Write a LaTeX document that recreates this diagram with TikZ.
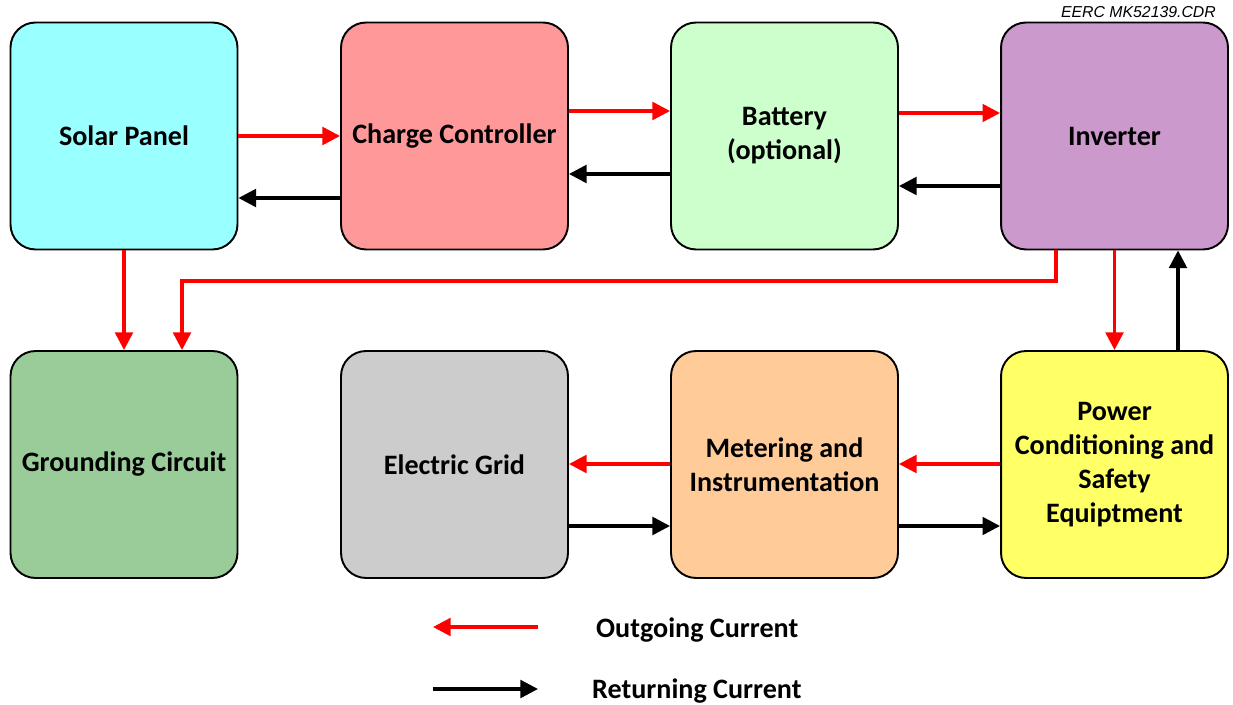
\documentclass[tikz,border=0pt]{standalone}
\usepackage{fontspec}
\setmainfont{Carlito}
\newfontfamily\arialfont{Liberation Sans}
\usetikzlibrary{arrows.meta}
\definecolor{cSolar}{HTML}{99FFFF}
\definecolor{cCharge}{HTML}{FF9999}
\definecolor{cBatt}{HTML}{CCFFCC}
\definecolor{cInv}{HTML}{CC99CC}
\definecolor{cGround}{HTML}{99CC99}
\definecolor{cGrid}{HTML}{CCCCCC}
\definecolor{cMeter}{HTML}{FFCC99}
\definecolor{cPower}{HTML}{FFFF66}
\definecolor{cRed}{HTML}{FF0000}
\tikzset{
  blockbox/.style={draw=black, line width=1.1pt, rounded corners=0.5cm, minimum width=4.54cm, minimum height=4.54cm, align=center, font=\fontsize{16}{19.3}\selectfont\bfseries, inner sep=2pt},
  outarrow/.style={draw=cRed, line width=1.9pt, -{Triangle[length=10pt,width=10pt]}},
  retarrow/.style={draw=black, line width=1.9pt, -{Triangle[length=10pt,width=10pt]}},
  legendtext/.style={font=\fontsize{16}{19.3}\selectfont\bfseries, anchor=west}
}
\begin{document}
\begin{tikzpicture}[x=0.02cm,y=-0.02cm]
\useasboundingbox (0,0) rectangle (1233,705);
\node[blockbox, fill=cSolar] (solar) at (124,136) {Solar Panel};
\node[blockbox, fill=cCharge] (charge) at (454.5,136) {Charge Controller};
\node[blockbox, fill=cBatt] (batt) at (784.5,136) {Battery\\(optional)};
\node[blockbox, fill=cInv] (inv) at (1114.5,136) {Inverter};
\node[blockbox, fill=cGround] (ground) at (124,464.5) {Grounding Circuit};
\node[blockbox, fill=cGrid] (grid) at (454.5,464.5) {Electric Grid};
\node[blockbox, fill=cMeter] (meter) at (784.5,464.5) {Metering and\\Instrumentation};
\node[blockbox, fill=cPower] (power) at (1114.5,464.5) {Power\\Conditioning and\\Safety\\Equiptment};
\node[font=\arialfont\itshape\fontsize{9}{10}\selectfont, anchor=base east, text=black] (tag) at (1222,18) {EERC MK52139.CDR};

% top row
\draw[outarrow] (solar.east |- 0,136) -- (charge.west |- 0,136);
\draw[retarrow] (charge.west |- 0,198) -- (solar.east |- 0,198);
\draw[outarrow] (charge.east |- 0,111) -- (batt.west |- 0,111);
\draw[retarrow] (batt.west |- 0,174) -- (charge.east |- 0,174);
\draw[outarrow] (batt.east |- 0,113) -- (inv.west |- 0,113);
\draw[retarrow] (inv.west |- 0,186) -- (batt.east |- 0,186);

% verticals
\draw[outarrow] (solar.south) -- (ground.north);
\draw[outarrow] (inv.south -| 1056,0) |- (182,281) -- (ground.north -| 182,0);
\draw[outarrow] (inv.south) -- (power.north);
\draw[retarrow] (power.north -| 1178,0) -- (inv.south -| 1178,0);

% bottom row
\draw[outarrow] (power.west |- 0,464) -- (meter.east |- 0,464);
\draw[retarrow] (meter.east |- 0,526) -- (power.west |- 0,526);
\draw[outarrow] (meter.west |- 0,464) -- (grid.east |- 0,464);
\draw[retarrow] (grid.east |- 0,526) -- (meter.west |- 0,526);

% legend
\coordinate (lo1) at (538,627);
\coordinate (lo2) at (433,627);
\coordinate (lr1) at (433,689);
\coordinate (lr2) at (538,689);
\draw[outarrow] (lo1) -- (lo2);
\draw[retarrow] (lr1) -- (lr2);
\node[legendtext] (louttext) at (590,630) {Outgoing Current};
\node[legendtext] (lrettext) at (586,691) {Returning Current};
\end{tikzpicture}
\end{document}
